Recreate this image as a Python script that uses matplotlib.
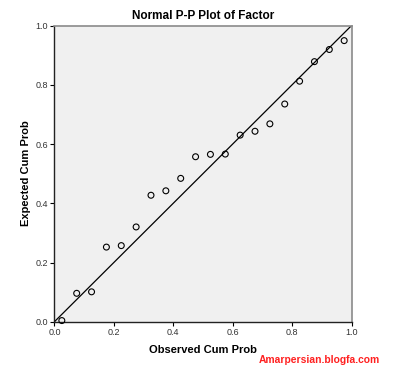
import numpy as np
import matplotlib
matplotlib.use("Agg")
import matplotlib.pyplot as plt

# P-P plot data (20 cases)
observed = [0.025, 0.075, 0.125, 0.175, 0.225, 0.275, 0.325, 0.375, 0.425, 0.475,
            0.525, 0.575, 0.625, 0.675, 0.725, 0.775, 0.825, 0.875, 0.925, 0.975]
expected = [0.004, 0.096, 0.101, 0.252, 0.257, 0.320, 0.427, 0.442, 0.484, 0.557,
            0.565, 0.566, 0.630, 0.643, 0.668, 0.735, 0.812, 0.878, 0.919, 0.949]
ticks = [0.0, 0.2, 0.4, 0.6, 0.8, 1.0]

plt.rcParams['font.family'] = ['Liberation Sans', 'DejaVu Sans']

fig = plt.figure(figsize=(4, 3.75), dpi=100)
ax = fig.add_axes([0.136, 0.142, 0.743, 0.790])
ax.set_facecolor('#f0f0f0')

# reference line
ax.plot([0, 1], [0, 1], color='black', lw=0.9, zorder=2)
ax.scatter(observed, expected, s=18, facecolors='none', edgecolors='black',
           linewidths=0.8, zorder=3, clip_on=False)

ax.set_xlim(0, 1)
ax.set_ylim(0, 1)
ax.set_xticks(ticks)
ax.set_yticks(ticks)
ax.set_xticklabels([f'{t:.1f}' for t in ticks])
ax.set_yticklabels([f'{t:.1f}' for t in ticks])
ax.tick_params(direction='out', length=3, width=0.8, labelsize=6.5,
               labelcolor='#333333', pad=1.5)

for side in ['top', 'right']:
    ax.spines[side].set_color('#8a8a8a')
    ax.spines[side].set_linewidth(1.2)
for side in ['left', 'bottom']:
    ax.spines[side].set_color('#222222')
    ax.spines[side].set_linewidth(1.0)

ax.set_title('Normal P-P Plot of Factor', fontsize=8.5, fontweight='bold', pad=5)
ax.set_xlabel('Observed Cum Prob', fontsize=8, fontweight='bold')
ax.set_ylabel('Expected Cum Prob', fontsize=8, fontweight='bold')
ax.xaxis.set_label_coords(0.5, -0.078)
ax.yaxis.set_label_coords(-0.078, 0.5)

fig.text(0.648, 0.04, 'Amarpersian.blogfa.com', color='#ff2020', fontsize=7.4,
         fontweight='bold', ha='left', va='center')

fig.savefig('out.png', dpi=100)
